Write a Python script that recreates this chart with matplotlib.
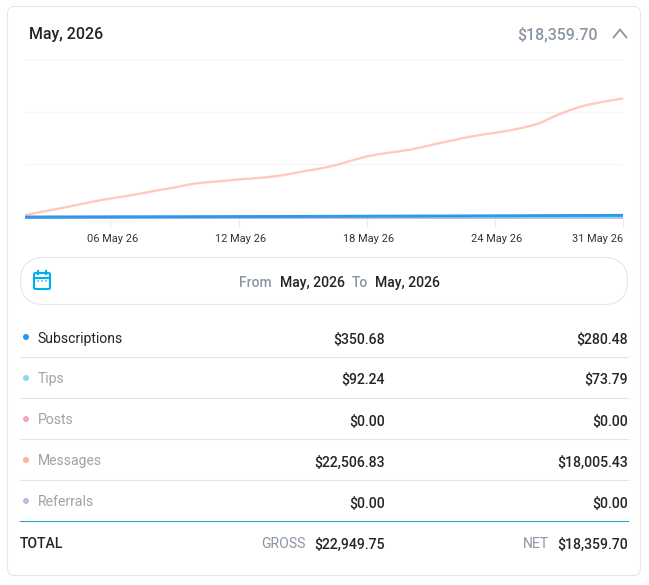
import numpy as np
import matplotlib
matplotlib.use("Agg")
import matplotlib.pyplot as plt
from matplotlib.patches import FancyBboxPatch, PathPatch, Circle
from matplotlib.path import Path
from matplotlib.transforms import ScaledTranslation

plt.rcParams["font.family"] = ["Roboto", "DejaVu Sans"]

W, H = 649, 585

# Cumulative net earnings per day shown on the axis
messages = [304, 957, 1565, 2233, 2840, 3342, 3950, 4512, 5119, 5423, 5727, 5970, 6334, 6942,
            7489, 8309, 9220, 9767, 10223, 10937, 11651, 12304, 12805, 13367, 14172, 15600,
            16755, 17469, 18005.43]
subscriptions = [5, 12, 20, 30, 38, 45, 55, 62, 70, 80, 90, 98, 108, 118, 128, 140, 150, 160,
                 170, 180, 190, 200, 210, 222, 235, 248, 260, 270, 280.48]
tips = [0, 3, 5, 8, 10, 12, 15, 18, 20, 23, 25, 28, 30, 33, 36, 38, 40, 43, 46, 49, 52, 55, 58,
        60, 63, 65, 68, 71, 73.79]
posts = [0] * 29
referrals = [0] * 29

tick_index = [4, 10, 16, 22, 28]
tick_labels = ["06 May 26", "12 May 26", "18 May 26", "24 May 26", "31 May 26"]
y_ticks = [0, 8000, 16000, 24000]

row_names = ["Subscriptions", "Tips", "Posts", "Messages", "Referrals"]
row_gross = ["$350.68", "$92.24", "$0.00", "$22,506.83", "$0.00"]
row_net = ["$280.48", "$73.79", "$0.00", "$18,005.43", "$0.00"]
row_colors = ["#2196f3", "#80deea", "#f8a5c2", "#ffb199", "#c9b6e8"]
total_gross = "$22,949.75"
total_net = "$18,359.70"

DARK = "#242529"
GREY = "#8a96a3"
MUTED = "#a3a3a3"
RULE = "#e2e5e8"


def px(size):
    return size * 0.72


def smooth_path(x, y):
    """Catmull-Rom style Bezier through the given points."""
    x, y = np.asarray(x, float), np.asarray(y, float)
    dy = np.gradient(y, x)
    verts = [(x[0], y[0])]
    codes = [Path.MOVETO]
    for i in range(len(x) - 1):
        h = (x[i + 1] - x[i]) / 3
        verts += [(x[i] + h, y[i] + dy[i] * h), (x[i + 1] - h, y[i + 1] - dy[i + 1] * h),
                  (x[i + 1], y[i + 1])]
        codes += [Path.CURVE4] * 3
    return Path(verts, codes)


fig = plt.figure(figsize=(W / 100, H / 100), dpi=100, facecolor="white")

# Page-level layer in pixel coordinates for the card furniture and the table
bg = fig.add_axes([0, 0, 1, 1])
bg.set_xlim(0, W)
bg.set_ylim(H, 0)
bg.axis("off")

bg.add_patch(FancyBboxPatch((7.5, 6.5), 633, 569, boxstyle="round,pad=0,rounding_size=7",
                            fc="white", ec="#e4e6e8", lw=0.75))

bg.text(29, 33, "May, 2026", fontsize=px(16), fontweight=500, color=DARK, va="center_baseline")
bg.text(598, 33, total_net, fontsize=px(16), fontweight=500, color=GREY,
        ha="right", va="center_baseline")
bg.plot([613.5, 620, 626.5], [37.5, 29.5, 37.5], color=GREY, lw=1.3, solid_capstyle="round",
        solid_joinstyle="miter")

# Date range pill
bg.add_patch(FancyBboxPatch((20.5, 257.5), 607, 47, boxstyle="round,pad=0,rounding_size=23.5",
                            fc="white", ec="#e4e6e8", lw=0.75))
ICON = "#00aff0"
bg.add_patch(FancyBboxPatch((34, 273), 16, 16, boxstyle="round,pad=0,rounding_size=1.5",
                            fc="none", ec=ICON, lw=1.5))
bg.plot([34, 50], [277.5, 277.5], color=ICON, lw=1.5)
bg.plot([38, 38], [270.5, 274], color=ICON, lw=1.5)
bg.plot([46, 46], [270.5, 274], color=ICON, lw=1.5)
for cx in (38.2, 42, 45.8):
    bg.add_patch(Circle((cx, 281), 0.8, fc=ICON, ec="none"))

for x0, text, color in [(239, "From", GREY), (280, "May, 2026", DARK), (352, "To", GREY),
                        (374.7, "May, 2026", DARK)]:
    bg.text(x0, 281.6, text, fontsize=px(14), fontweight=500, color=color, va="center_baseline")

# Breakdown table
row_y = [337, 378, 419, 460, 501]
for i, (name, gross, net, color, y) in enumerate(zip(row_names, row_gross, row_net, row_colors, row_y)):
    bg.add_patch(Circle((26, y), 3, fc=color, ec="none"))
    bg.text(37.6, y, name, fontsize=px(14), color=DARK if i == 0 else MUTED, va="center_baseline")
    bg.text(384.5, y + 1, gross, fontsize=px(14), fontweight=500, color=DARK, ha="right",
            va="center_baseline")
    bg.text(628, y + 1, net, fontsize=px(14), fontweight=500, color=DARK, ha="right",
            va="center_baseline")
    if i < len(row_names) - 1:
        bg.plot([20, 628], [y + 20, y + 20], color=RULE, lw=0.75)
bg.plot([20, 628], [521, 521], color="#1f9fd8", lw=0.75)

bg.text(20, 543, "TOTAL", fontsize=px(14), fontweight=500, color=DARK, va="center_baseline")
bg.text(306, 542, "GROSS", fontsize=px(14), color=GREY, ha="right", va="center_baseline")
bg.text(384.5, 543, total_gross, fontsize=px(14), fontweight=500, color=DARK, ha="right",
        va="center_baseline")
bg.text(549, 542, "NET", fontsize=px(14), color=GREY, ha="right", va="center_baseline")
bg.text(628, 543, total_net, fontsize=px(14), fontweight=500, color=DARK, ha="right",
        va="center_baseline")

# Earnings chart
left, right, top, bottom = 25, 623, 59, 217.2
ax = fig.add_axes([left / W, 1 - bottom / H, (right - left) / W, (bottom - top) / H])
ax.patch.set_alpha(0)
days = np.arange(len(messages))
ax.set_xlim(0, days[-1])
ax.set_ylim(0, y_ticks[-1])
for side in ax.spines.values():
    side.set_visible(False)
ax.set_yticks(y_ticks)
ax.set_yticklabels([])
ax.tick_params(axis="y", length=0)
ax.grid(axis="y", color="#f5f5f5", lw=1)
ax.set_axisbelow(True)
ax.set_xticks(tick_index)
ax.set_xticklabels(tick_labels, fontsize=px(11), color="#33363a")
ax.tick_params(axis="x", length=7.5, width=0.8, color="#ececec", pad=4.5)

labels = ax.get_xticklabels()
for label in labels[:-1]:
    label.set_transform(label.get_transform() + ScaledTranslation(2 / 100, 0, fig.dpi_scale_trans))
labels[-1].set_ha("right")

series = [(referrals, row_colors[4], 2.0), (messages, "#ffcabb", 1.7), (posts, "#e79aa0", 2.0),
          (tips, row_colors[1], 2.0), (subscriptions, "#2f97ee", 2.1)]
for values, color, width in series:
    ax.add_patch(PathPatch(smooth_path(days, values), fc="none", ec=color, lw=width,
                           clip_on=False, capstyle="butt"))

fig.savefig("out.png", dpi=100)
